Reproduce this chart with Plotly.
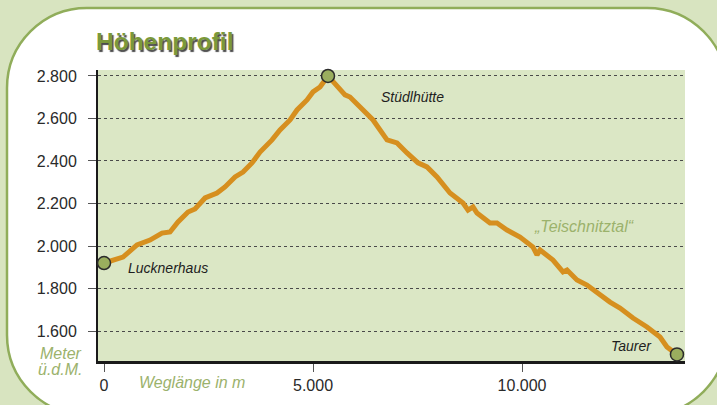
import plotly.graph_objects as go

# ---------------- data ----------------
distance_m = [0, 454, 789, 1100, 1387, 1579, 1770, 2009, 2177, 2416, 2703, 2894,
              3134, 3325, 3540, 3732, 4019, 4210, 4450, 4617, 4856, 4999, 5167, 5358,
              5765, 5884, 6124, 6435, 6770, 7009, 7248, 7511, 7726, 7966, 8277, 8588,
              8707, 8827, 8922, 9233, 9400, 9640, 9951, 10262, 10358, 10430, 10740,
              10979, 11075, 11314, 11553, 11864, 12104, 12343, 12654, 12989, 13300,
              13467, 13706]
elevation_m = [1920, 1948, 2005, 2028, 2061, 2066, 2113, 2160, 2174, 2226, 2249, 2278,
               2325, 2348, 2391, 2442, 2499, 2546, 2593, 2640, 2687, 2725, 2748, 2800,
               2711, 2701, 2654, 2593, 2499, 2485, 2438, 2391, 2372, 2325, 2249, 2202,
               2169, 2184, 2155, 2108, 2108, 2075, 2042, 1995, 1958, 1981, 1934,
               1878, 1887, 1840, 1816, 1769, 1736, 1708, 1661, 1619, 1572,
               1525, 1490]

station_names = ["Lucknerhaus", "Stüdlhütte", "Taurer"]
station_dist = [0, 5358, 13706]
station_elev = [1920, 2800, 1490]

y_tickvals = [1600, 1800, 2000, 2200, 2400, 2600, 2800]
y_ticktext = ["1.600", "1.800", "2.000", "2.200", "2.400", "2.600", "2.800"]
x_tickvals = [0, 5000, 10000]
x_ticktext = ["0", "5.000", "10.000"]

# ---------------- layout geometry ----------------
W, H = 717, 405
L, R, T, B = 98, 32, 70, 44
PW, PH = W - L - R, H - T - B


def px(x):
    return (x - L) / PW


def py(y):
    return (H - B - y) / PH


def card_path(x0, y0, x1, y1, r):
    k = 0.5523 * r
    def P(x, y):
        return f"{px(x):.5f},{py(y):.5f}"
    s = f"M {P(x0 + r, y0)} L {P(x1 - r, y0)} "
    s += f"C {P(x1 - r + k, y0)} {P(x1, y0 + r - k)} {P(x1, y0 + r)} "
    s += f"L {P(x1, y1 - r)} "
    s += f"C {P(x1, y1 - r + k)} {P(x1 - r + k, y1)} {P(x1 - r, y1)} "
    s += f"L {P(x0 + r, y1)} "
    s += f"C {P(x0 + r - k, y1)} {P(x0, y1 - r + k)} {P(x0, y1 - r)} "
    s += f"L {P(x0, y0 + r)} "
    s += f"C {P(x0, y0 + r - k)} {P(x0 + r - k, y0)} {P(x0 + r, y0)} Z"
    return s


OUTER = "#d8e4c0"
PLOT = "#dbe7c5"
CARD_LINE = "#90ad5a"
OLIVE = "#9bb26c"
ORANGE = "#d68f1f"

fig = go.Figure()

fig.add_trace(go.Scatter(
    x=distance_m, y=elevation_m, mode="lines",
    line=dict(color=ORANGE, width=5, shape="linear"),
    hoverinfo="skip", cliponaxis=False, showlegend=False,
))
fig.add_trace(go.Scatter(
    x=station_dist, y=station_elev, mode="markers", text=station_names,
    marker=dict(size=13, color="#9aae5e", line=dict(color="#2b2b2b", width=1.5)),
    cliponaxis=False, showlegend=False,
))

shapes = [
    dict(type="path", xref="paper", yref="paper", layer="below",
         path=card_path(7, 8, 727, 415, 80),
         fillcolor="white", line=dict(color=CARD_LINE, width=2.5)),
    dict(type="rect", xref="paper", yref="paper", layer="below",
         x0=0, x1=1, y0=0, y1=1, fillcolor=PLOT, line=dict(width=0)),
]

font_main = "Liberation Sans, Arial, sans-serif"

annotations = [
    dict(text="<b>Höhenprofil</b>", xref="paper", yref="paper",
         x=px(94), y=py(42), xanchor="left", yanchor="middle", showarrow=False,
         font=dict(family=font_main, size=24.5, color="#7b993a",
                   shadow="1.5px 1.5px 1px rgba(30,30,30,0.8)")),
    dict(text="<i>Meter</i>", xref="paper", yref="paper",
         x=px(84), y=py(353), xanchor="right", yanchor="middle", showarrow=False,
         font=dict(family=font_main, size=16, color=OLIVE)),
    dict(text="<i>ü.d.M.</i>", xref="paper", yref="paper",
         x=px(84), y=py(369), xanchor="right", yanchor="middle", showarrow=False,
         font=dict(family=font_main, size=16, color=OLIVE)),
    dict(text="<i>Weglänge in m</i>", xref="paper", yref="paper",
         x=px(192), y=py(382), xanchor="center", yanchor="middle", showarrow=False,
         font=dict(family=font_main, size=16, color=OLIVE)),
    dict(text="<i>Stüdlhütte</i>", x=7368, y=2701, showarrow=False,
         font=dict(family=font_main, size=14, color="#1e1e1e")),
    dict(text="<i>Lucknerhaus</i>", x=1531, y=1896, showarrow=False,
         font=dict(family=font_main, size=14, color="#1e1e1e")),
    dict(text="<i>Taurer</i>", x=12630, y=1529, showarrow=False,
         font=dict(family=font_main, size=14, color="#1e1e1e")),
    dict(text="<i>„Teischnitztal“</i>", x=11482, y=2094, showarrow=False,
         font=dict(family=font_main, size=16, color=OLIVE)),
]

fig.update_layout(
    width=W, height=H,
    margin=dict(l=L, r=R, t=T, b=B, pad=0),
    paper_bgcolor=OUTER, plot_bgcolor=PLOT,
    shapes=shapes, annotations=annotations,
    showlegend=False,
    font=dict(family=font_main, size=16, color="#2a2a2a"),
    xaxis=dict(range=[-144, 13898], tickvals=x_tickvals, ticktext=x_ticktext,
               showgrid=False, zeroline=False, showline=True, linecolor="#1a1a1a",
               linewidth=2.5, ticks="outside", ticklen=8, tickwidth=1, tickcolor="#555",
               layer="below traces", tickfont=dict(size=16, color="#2a2a2a")),
    yaxis=dict(range=[1459, 2828], tickvals=y_tickvals, ticktext=y_ticktext,
               showgrid=True, gridcolor="#4a4a4a", gridwidth=1, griddash="3px,3px",
               zeroline=False, showline=True, linecolor="#1a1a1a", linewidth=2,
               ticks="outside", ticklen=8, tickwidth=1, tickcolor="#555",
               ticklabelstandoff=8,
               layer="below traces", tickfont=dict(size=16, color="#2a2a2a")),
)

fig.write_html("out.html", config={"displayModeBar": False},
               post_script="document.body.style.margin='0';document.body.style.overflow='hidden';")
